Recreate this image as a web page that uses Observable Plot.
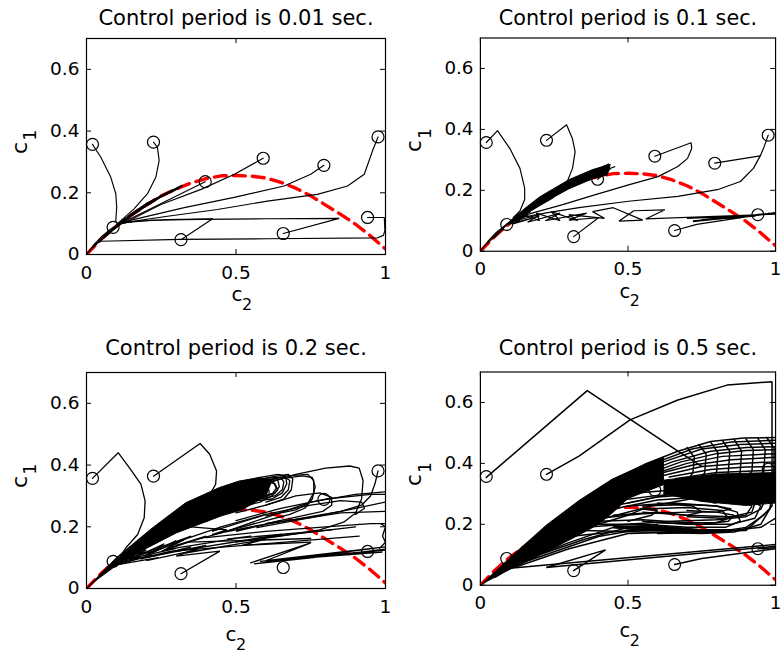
<!DOCTYPE html>
<html>
<head>
<meta charset="utf-8">
<script src="https://cdn.jsdelivr.net/npm/d3@7"></script>
<script src="https://cdn.jsdelivr.net/npm/@observablehq/plot@0.6"></script>
<style>
html,body{margin:0;padding:0;background:#fff;}
body{width:780px;height:655px;overflow:hidden;position:relative;font-family:"DejaVu Sans",sans-serif;}
.panel{position:absolute;}
</style>
</head>
<body>
<div id="p0" class="panel" style="left:0px;top:0px"></div>
<div id="p1" class="panel" style="left:395px;top:0px"></div>
<div id="p2" class="panel" style="left:0px;top:334px"></div>
<div id="p3" class="panel" style="left:395px;top:334px"></div>
<script>
// ---------- data ----------
const titles = ["Control period is 0.01 sec.", "Control period is 0.1 sec.", "Control period is 0.2 sec.", "Control period is 0.5 sec."];
const xTicks = [0, 0.5, 1];
const yTicks = [0, 0.2, 0.4, 0.6];
const xLabel = ["c", "2"];
const yLabel = ["c", "1"];

// starting points (circles), same in every panel
const startC2 = [0.020, 0.224, 0.397, 0.591, 0.794, 0.975, 0.940, 0.658, 0.316, 0.089];
const startC1 = [0.357, 0.364, 0.236, 0.312, 0.289, 0.381, 0.120, 0.068, 0.048, 0.088];

// red dashed boundary curve
const boundaryC2 = [0, 0.05, 0.1, 0.15, 0.2, 0.25, 0.3, 0.35, 0.4, 0.45, 0.5, 0.55, 0.6, 0.65, 0.7, 0.75, 0.8, 0.85, 0.9, 0.95, 1.0];
const boundaryC1 = [0, 0.05, 0.092, 0.128, 0.16, 0.19, 0.212, 0.232, 0.246, 0.255, 0.256, 0.254, 0.248, 0.234, 0.215, 0.19, 0.16, 0.13, 0.098, 0.06, 0.018];

// trajectories, period 0.01 s
const traj001 = [
  [[0.020,0.357],[0.048,0.315],[0.081,0.251],[0.098,0.197],[0.101,0.153],[0.098,0.11],[0.104,0.097]],
  [[0.224,0.364],[0.237,0.348],[0.243,0.305],[0.232,0.251],[0.204,0.197],[0.159,0.148],[0.115,0.11],[0.1,0.097]],
  [[0.397,0.236],[0.26,0.17],[0.126,0.106]],
  [[0.591,0.312],[0.495,0.26],[0.383,0.211],[0.249,0.162],[0.138,0.108],[0.11,0.1]],
  [[0.794,0.289],[0.75,0.26],[0.661,0.222],[0.494,0.185],[0.327,0.152],[0.16,0.114],[0.115,0.1]],
  [[0.975,0.381],[0.957,0.337],[0.929,0.26],[0.873,0.222],[0.772,0.195],[0.605,0.173],[0.438,0.146],[0.271,0.124],[0.16,0.108],[0.115,0.1]],
  [[0.940,0.120],[0.996,0.12],[0.998,0.078],[0.993,0.062],[0.974,0.054],[0.606,0.051],[0.315,0.049],[0.048,0.043],[0.03,0.036],[0.01,0.012],[0,0]],
  [[0.658,0.068],[0.845,0.117],[0.605,0.116],[0.382,0.114],[0.215,0.111],[0.12,0.102]],
  [[0.316,0.048],[0.422,0.116],[0.271,0.113],[0.137,0.106]],
  [[0.13,0.104],[0.105,0.097],[0.08,0.082],[0.05,0.058],[0.025,0.032],[0.01,0.013],[0,0]],
  [[0.02,0.022],[0.1,0.092],[0.2,0.161],[0.26,0.194],[0.321,0.223]]
];
const mass001 = [
  [[0.015,0.017],[0.05,0.053],[0.1,0.096],[0.15,0.133],[0.2,0.166],[0.26,0.197],[0.321,0.225],[0.31,0.214],[0.25,0.186],[0.2,0.156],[0.15,0.124],[0.1,0.087],[0.05,0.046]]
];

// trajectories, period 0.1 s
const traj01 = [
  [[0.020,0.357],[0.058,0.396],[0.1,0.337],[0.134,0.272],[0.15,0.207],[0.15,0.17],[0.134,0.132],[0.111,0.11]],
  [[0.224,0.364],[0.292,0.415],[0.312,0.369],[0.321,0.326],[0.312,0.272],[0.29,0.218],[0.245,0.175],[0.178,0.137],[0.123,0.11]],
  [[0.397,0.236],[0.44,0.27],[0.3,0.22],[0.457,0.278],[0.3,0.225],[0.435,0.286],[0.3,0.23],[0.42,0.27],[0.3,0.22]],
  [[0.591,0.312],[0.714,0.356],[0.716,0.337],[0.702,0.305],[0.669,0.278],[0.602,0.245],[0.502,0.218],[0.39,0.186],[0.279,0.153],[0.178,0.126],[0.123,0.11]],
  [[0.794,0.289],[0.948,0.313]],
  [[0.975,0.381],[0.959,0.337],[0.948,0.313],[0.925,0.272],[0.881,0.229],[0.803,0.202],[0.669,0.18],[0.502,0.164],[0.334,0.143],[0.223,0.126],[0.134,0.11]],
  [[0.940,0.121],[1.0,0.126],[0.72,0.097],[0.98,0.124],[0.735,0.1],[0.96,0.121],[0.75,0.104],[0.94,0.118],[0.70,0.108],[1.0,0.122],[0.56,0.106],[0.625,0.136],[0.52,0.133],[0.47,0.099],[0.55,0.102],[0.45,0.143],[0.38,0.13],[0.42,0.108],[0.3,0.12],[0.33,0.1],[0.24,0.13],[0.27,0.1],[0.19,0.125],[0.2,0.1],[0.15,0.12],[0.13,0.1]],
  [[0.658,0.068],[0.733,0.088],[0.95,0.12],[0.72,0.1],[0.93,0.115]],
  [[0.316,0.048],[0.40,0.11],[0.3,0.102],[0.36,0.125],[0.22,0.1],[0.27,0.125],[0.16,0.095],[0.2,0.12],[0.12,0.1]],
  [[0.09,0.09],[0.17,0.13],[0.1,0.095],[0.16,0.12],[0.11,0.09],[0.2,0.115],[0.12,0.095],[0.15,0.13]],
  [[0.13,0.104],[0.105,0.097],[0.08,0.082],[0.05,0.058],[0.025,0.032],[0.01,0.013],[0,0]]
];
const mass01 = [
  [[0.08,0.082],[0.15,0.14],[0.2,0.178],[0.3,0.235],[0.38,0.268],[0.44,0.285],[0.43,0.25],[0.38,0.238],[0.3,0.205],[0.2,0.152],[0.15,0.118],[0.1,0.088]],
  [[0.015,0.017],[0.05,0.053],[0.09,0.088],[0.08,0.076],[0.05,0.046]]
];

// trajectories, period 0.2 s
const traj02 = [
  [[0.020,0.357],[0.106,0.44],[0.143,0.392],[0.182,0.338],[0.196,0.284],[0.193,0.229],[0.171,0.175],[0.132,0.132],[0.109,0.1],[0.05,0.045],[0,0]],
  [[0.224,0.364],[0.38,0.47],[0.412,0.435],[0.435,0.381],[0.432,0.338],[0.41,0.3],[0.37,0.262],[0.323,0.229],[0.25,0.19]],
  [[0.5,0.34],[0.58,0.36],[0.64,0.37],[0.665,0.365],[0.67,0.34],[0.655,0.31],[0.62,0.29],[0.57,0.285],[0.5,0.27]],
  [[0.5,0.335],[0.6,0.358],[0.65,0.36],[0.66,0.345],[0.655,0.32],[0.63,0.3],[0.58,0.29]],
  [[0.52,0.34],[0.6,0.355],[0.64,0.35],[0.645,0.33],[0.63,0.31],[0.59,0.3]],
  [[0.48,0.32],[0.58,0.345],[0.625,0.345],[0.635,0.325],[0.62,0.305],[0.57,0.29],[0.5,0.28]],
  [[0.45,0.31],[0.55,0.345],[0.62,0.362],[0.675,0.37],[0.69,0.355],[0.685,0.32],[0.66,0.29],[0.6,0.27],[0.5,0.245]],
  [[0.45,0.3],[0.55,0.335],[0.6,0.345],[0.63,0.34],[0.64,0.32],[0.62,0.3],[0.58,0.28],[0.5,0.26]],
  [[0.5,0.33],[0.6,0.35],[0.66,0.362],[0.68,0.35],[0.675,0.32],[0.65,0.295],[0.6,0.28]],
  [[0.55,0.34],[0.67,0.365],[0.74,0.37],[0.76,0.35],[0.76,0.31],[0.74,0.275],[0.7,0.255],[0.6,0.235]],
  [[0.55,0.33],[0.65,0.355],[0.72,0.365],[0.755,0.36],[0.765,0.33],[0.755,0.29],[0.73,0.26],[0.68,0.24],[0.6,0.22],[0.47,0.186]],
  [[0.6,0.34],[0.7,0.37],[0.8,0.39],[0.88,0.397],[0.912,0.39],[0.925,0.35],[0.92,0.29],[0.9,0.245],[0.86,0.215],[0.78,0.19],[0.65,0.17],[0.5,0.15]],
  [[0.6,0.27],[0.7,0.3],[0.78,0.31],[0.82,0.295],[0.82,0.27],[0.79,0.25],[0.72,0.235],[0.6,0.21]],
  [[0.47,0.186],[0.6,0.23],[0.75,0.28],[0.9,0.305],[1.0,0.313]],
  [[0.5,0.22],[0.65,0.26],[0.8,0.29],[0.95,0.305],[1.0,0.305]],
  [[0.45,0.2],[0.6,0.24],[0.75,0.27],[0.85,0.285],[0.92,0.28],[0.93,0.26],[0.9,0.24]],
  [[0.57,0.197],[0.75,0.23],[0.9,0.26],[1.0,0.28]],
  [[0.6,0.21],[0.75,0.23],[0.85,0.245],[1.0,0.25]],
  [[0.4,0.165],[0.6,0.185],[0.8,0.2],[0.95,0.21],[1.0,0.21]],
  [[0.975,0.381],[0.965,0.34],[0.95,0.3],[0.92,0.27],[0.85,0.25],[0.7,0.225],[0.55,0.2]],
  [[0.98,0.13],[1.0,0.15],[0.99,0.17],[1.0,0.2],[0.985,0.21]],
  [[0.07,0.07],[0.2,0.125],[0.16,0.1],[0.26,0.145],[0.22,0.115],[0.3,0.155],[0.27,0.13],[0.34,0.15],[0.75,0.162]],
  [[0.1,0.08],[0.28,0.12],[0.912,0.17]],
  [[0.09,0.075],[0.24,0.1],[0.2,0.09],[0.37,0.125],[0.33,0.115],[0.6,0.16],[0.52,0.14],[0.75,0.15]],
  [[0.12,0.09],[0.25,0.13],[0.19,0.105],[0.33,0.16],[0.25,0.12],[0.4,0.17],[0.3,0.14],[0.45,0.18]],
  [[0.1,0.085],[0.18,0.1],[0.14,0.095],[0.3,0.13],[0.26,0.125],[0.55,0.17],[0.47,0.16],[0.82,0.19]],
  [[0.08,0.07],[0.22,0.11],[0.18,0.095],[0.35,0.135],[0.3,0.12],[0.65,0.175],[0.55,0.16],[0.9,0.2]],
  [[0.15,0.1],[0.35,0.17],[0.3,0.15],[0.45,0.2],[0.42,0.185],[0.6,0.24]],
  [[0.549,0.083],[0.75,0.148],[0.6,0.09],[1.0,0.135],[0.56,0.08],[1.0,0.125],[0.58,0.088],[0.99,0.118],[0.85,0.11],[1.0,0.128]],
  [[0.316,0.048],[0.446,0.121],[0.3,0.105],[0.4,0.14],[0.2,0.1]],
  [[0.35,0.2],[0.47,0.19],[0.42,0.175],[0.55,0.2],[0.5,0.185],[0.65,0.22]]
];
const mass02 = [
  [[0,0],[0.05,0.05],[0.1,0.1],[0.15,0.14],[0.221,0.197],[0.332,0.278],[0.444,0.327],[0.51,0.348],[0.58,0.36],[0.62,0.35],[0.6,0.3],[0.52,0.255],[0.45,0.235],[0.3,0.18],[0.2,0.13],[0.1,0.075],[0.03,0.025]]
];

// trajectories, period 0.5 s
const traj05 = [
  [[0.020,0.354],[0.362,0.639],[0.669,0.44],[0.75,0.39]],
  [[0.224,0.364],[0.334,0.424],[0.507,0.543],[0.669,0.608],[0.836,0.657],[0.988,0.668],[0.988,0.26],[0.96,0.23],[0.9,0.19],[0.8,0.175],[0.6,0.17]],
  [[0.45,0.345],[0.557,0.397],[0.669,0.44],[0.78,0.472],[0.892,0.483],[1.0,0.485]],
  [[0.47,0.35],[0.6,0.405],[0.72,0.448],[0.85,0.47],[1.0,0.476]],
  [[0.5,0.355],[0.62,0.405],[0.75,0.447],[0.88,0.462],[1.0,0.466]],
  [[0.52,0.355],[0.65,0.405],[0.78,0.44],[0.9,0.452],[1.0,0.455]],
  [[0.55,0.36],[0.68,0.405],[0.8,0.432],[0.9,0.442],[1.0,0.445]],
  [[0.57,0.36],[0.7,0.4],[0.82,0.423],[1.0,0.432]],
  [[0.6,0.365],[0.72,0.395],[0.85,0.412],[1.0,0.42]],
  [[0.62,0.36],[0.75,0.39],[0.88,0.4],[1.0,0.405]],
  [[0.64,0.355],[0.78,0.38],[0.9,0.388],[1.0,0.39]],
  [[0.66,0.35],[0.8,0.37],[1.0,0.378]],
  [[0.70,0.452],[0.725,0.42],[0.72,0.37],[0.7,0.34]],
  [[0.74,0.462],[0.765,0.43],[0.76,0.37],[0.74,0.34]],
  [[0.78,0.47],[0.805,0.435],[0.8,0.37],[0.78,0.345]],
  [[0.82,0.475],[0.845,0.44],[0.84,0.37],[0.82,0.345]],
  [[0.86,0.478],[0.885,0.44],[0.88,0.37],[0.86,0.35]],
  [[0.9,0.48],[0.925,0.445],[0.92,0.375],[0.9,0.35]],
  [[0.94,0.482],[0.965,0.445],[0.96,0.375],[0.94,0.35]],
  [[0.97,0.485],[0.995,0.45],[0.995,0.36],[0.98,0.3]],
  [[0.4,0.2],[0.55,0.2],[0.7,0.19],[0.83,0.19],[0.88,0.21],[0.87,0.24],[0.8,0.26],[0.65,0.27],[0.5,0.26]],
  [[0.4,0.21],[0.55,0.215],[0.7,0.205],[0.8,0.205],[0.84,0.22],[0.82,0.245],[0.7,0.255],[0.55,0.25]],
  [[0.45,0.23],[0.6,0.24],[0.7,0.23],[0.75,0.24],[0.72,0.26],[0.6,0.27]],
  [[0.35,0.18],[0.55,0.175],[0.75,0.17],[0.86,0.175],[0.95,0.2],[0.98,0.25]],
  [[0.4,0.2],[0.5,0.23],[0.55,0.25],[0.6,0.245],[0.58,0.23],[0.5,0.21]],
  [[0.45,0.25],[0.6,0.28],[0.75,0.29],[0.88,0.28],[0.92,0.26],[0.9,0.23],[0.82,0.22],[0.7,0.225]],
  [[0.42,0.22],[0.58,0.26],[0.72,0.285],[0.85,0.29],[0.9,0.275]],
  [[0.45,0.26],[0.6,0.29],[0.75,0.3],[0.87,0.295],[0.93,0.27],[0.92,0.24],[0.85,0.225],[0.7,0.23],[0.55,0.24]],
  [[0.5,0.27],[0.65,0.3],[0.8,0.305],[0.9,0.29],[0.95,0.26],[0.93,0.22],[0.85,0.2],[0.7,0.2],[0.55,0.21]],
  [[0.4,0.22],[0.55,0.235],[0.7,0.24],[0.8,0.24],[0.86,0.23],[0.84,0.21],[0.75,0.2],[0.6,0.205]],
  [[0.35,0.19],[0.5,0.2],[0.65,0.21],[0.8,0.215],[0.9,0.225],[0.95,0.25],[0.97,0.29]],
  [[0.3,0.16],[0.5,0.18],[0.7,0.18],[0.85,0.18],[0.95,0.19],[1.0,0.22]],
  [[0.55,0.26],[0.7,0.265],[0.8,0.26],[0.85,0.25],[0.8,0.24],[0.7,0.245]],
  [[0.5,0.3],[0.62,0.31],[0.75,0.31],[0.9,0.3],[1.0,0.3]],
  [[0.48,0.28],[0.6,0.295],[0.7,0.3],[0.85,0.31],[1.0,0.32]],
  [[0.05,0.03],[0.2,0.1],[0.35,0.15],[0.5,0.19],[0.6,0.2]],
  [[0.1,0.06],[0.25,0.11],[0.4,0.16],[0.55,0.185]],
  [[0.1,0.065],[0.3,0.14],[0.45,0.19]],
  [[0.12,0.06],[0.3,0.12],[0.5,0.17],[0.7,0.175],[0.9,0.18],[0.98,0.25],[0.99,0.3]],
  [[0.316,0.048],[0.424,0.116],[0.223,0.058],[1.0,0.128]],
  [[0.658,0.068],[0.75,0.088],[1.0,0.12]],
  [[0.940,0.120],[1.0,0.123]],
  [[1.0,0.134],[0.1,0.056],[0.2,0.1]]
];
const mass05 = [
  [[0,0],[0.111,0.1],[0.223,0.197],[0.334,0.278],[0.446,0.348],[0.557,0.397],[0.62,0.42],[0.62,0.33],[0.5,0.285],[0.45,0.24],[0.4,0.2],[0.334,0.165],[0.223,0.11],[0.111,0.06],[0.05,0.025]],
  [[0.62,0.345],[0.8,0.365],[1.0,0.37],[1.0,0.27],[0.9,0.262],[0.75,0.275],[0.62,0.3]],
  [[0.45,0.195],[0.6,0.195],[0.75,0.183],[0.85,0.183],[0.85,0.176],[0.7,0.174],[0.55,0.18],[0.45,0.188]]
];

const trajectories = [traj001, traj01, traj02, traj05];
const masses = [mass001, mass01, mass02, mass05];

// ---------- layout (pixels) ----------
const layout = [
  {titleDy: -20, cDx: 1, cDy: 40.5, sDx: 11, sDy: 50, lw: 1.15},
  {titleDy: -20, cDx: -3, cDy: 40.5, sDx: 7, sDy: 50, lw: 1.2},
  {titleDy: -24, cDx: -5, cDy: 46.5, sDx: 5, sDy: 56, lw: 1.3},
  {titleDy: -24, cDx: -3, cDy: 46.5, sDx: 7, sDy: 56, lw: 1.5}
];

function toRows(list) {
  return list.flatMap((t, k) => t.map(([c2, c1]) => ({id: k, c2, c1})));
}

function makePanel(i) {
  const L = layout[i];
  const lineRows = toRows(trajectories[i]);
  const polyRows = toRows(masses[i]);
  const redRows = boundaryC2.map((c2, j) => ({c2, c1: boundaryC1[j]}));
  const startRows = startC2.map((c2, j) => ({c2, c1: startC1[j]}));
  const W = 299, H = 216;
  return Plot.plot({
    width: 390, height: 330,
    marginLeft: 86, marginRight: 5, marginTop: 38, marginBottom: 76,
    x: {domain: [0, 1], label: null},
    y: {domain: [0, 0.7], label: null},
    style: {fontFamily: "DejaVu Sans", fontSize: "18.5px", color: "black", background: "white", overflow: "visible"},
    marks: [
      Plot.line(redRows, {x: "c2", y: "c1", stroke: "#ff0000", strokeWidth: 3.4, strokeDasharray: "12,7", clip: true}),
      Plot.dot(startRows, {x: "c2", y: "c1", r: 6, stroke: "black", strokeWidth: 1.2, fill: "none"}),
      Plot.line(polyRows, {x: "c2", y: "c1", z: "id", fill: "black", stroke: "black", strokeWidth: 1, clip: true}),
      Plot.line(lineRows, {x: "c2", y: "c1", z: "id", stroke: "black", strokeWidth: L.lw, strokeLinejoin: "miter", clip: true}),
      Plot.frame({stroke: "black", strokeWidth: 1.2}),
      Plot.tickY(yTicks, {y: d => d, insetRight: W - 5, stroke: "black"}),
      Plot.tickY(yTicks, {y: d => d, insetLeft: W - 5, stroke: "black"}),
      Plot.tickX(xTicks, {x: d => d, insetBottom: H - 5, stroke: "black"}),
      Plot.tickX(xTicks, {x: d => d, insetTop: H - 5, stroke: "black"}),
      Plot.axisX({ticks: xTicks, tickSize: 0, tickPadding: 11, tickFormat: d => String(d), label: null, fontSize: 18.5}),
      Plot.axisY({ticks: yTicks, tickSize: 0, tickPadding: 7, tickFormat: d => String(d), label: null, fontSize: 18.5}),
      Plot.text([titles[i]], {text: d => d, frameAnchor: "top", lineAnchor: "middle", dy: L.titleDy, fontSize: 21}),
      Plot.text([xLabel[0]], {text: d => d, frameAnchor: "bottom", lineAnchor: "middle", dx: L.cDx, dy: L.cDy, fontSize: 20}),
      Plot.text([xLabel[1]], {text: d => d, frameAnchor: "bottom", lineAnchor: "middle", dx: L.sDx, dy: L.sDy, fontSize: 16}),
      Plot.text([yLabel[0]], {text: d => d, frameAnchor: "left", lineAnchor: "middle", rotate: -90, dx: -67, dy: 7.5, fontSize: 22}),
      Plot.text([yLabel[1]], {text: d => d, frameAnchor: "left", lineAnchor: "middle", rotate: -90, dx: -55.5, dy: -6, fontSize: 17})
    ]
  });
}

for (let i = 0; i < 4; i++) {
  document.getElementById("p" + i).appendChild(makePanel(i));
}
</script>
</body>
</html>
